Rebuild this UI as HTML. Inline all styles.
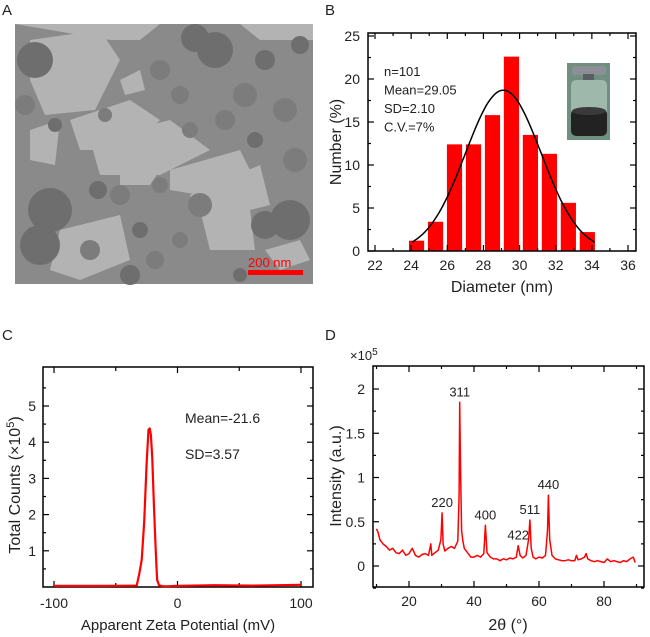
<!DOCTYPE html>
<html><head><meta charset="utf-8">
<style>
html,body{margin:0;padding:0;background:#fff;}
svg{display:block;font-family:"Liberation Sans","DejaVu Sans",sans-serif;}
</style></head>
<body>
<svg id="fig" width="650" height="637" viewBox="0 0 650 637">
  <!-- Panel A -->
  <text x="2" y="15" font-size="15" fill="#222">A</text>
  <g>
    <rect x="15" y="24" width="298" height="260" fill="#8a8a8a"/>
    <g fill="#b3b3b3">
      <path d="M30,40 L100,30 L120,60 L95,110 L45,115 L30,80Z"/>
      <path d="M15,24 L160,24 L140,40 L110,40Z"/>
      <path d="M240,24 L313,24 L313,40 L260,40Z"/>
      <path d="M70,120 L130,100 L160,120 L130,150 L80,150Z"/>
      <path d="M90,140 L170,120 L210,150 L160,175 L100,175Z"/>
      <path d="M120,160 L160,170 L150,185 L120,185Z"/>
      <path d="M170,170 L240,150 L250,170 L200,195 L170,190Z"/>
      <path d="M190,195 L260,165 L270,205 L230,215 L195,210Z"/>
      <path d="M60,230 L120,215 L130,260 L80,280 L50,270Z"/>
      <path d="M200,210 L250,210 L255,250 L210,250Z"/>
      <path d="M30,130 L60,120 L55,165 L30,160Z"/>
      <path d="M265,250 L300,240 L310,260 L280,270Z"/>
      <path d="M120,80 L140,70 L145,90 L125,95Z"/>
    </g>
    <g fill="#6e6e6e">
      <circle cx="35" cy="60" r="18"/><circle cx="50" cy="210" r="22"/><circle cx="40" cy="245" r="20"/>
      <circle cx="215" cy="50" r="18"/><circle cx="195" cy="38" r="14"/><circle cx="290" cy="220" r="20"/>
      <circle cx="265" cy="225" r="14"/><circle cx="140" cy="230" r="8"/><circle cx="98" cy="190" r="9"/>
      <circle cx="255" cy="140" r="8"/><circle cx="265" cy="60" r="10"/><circle cx="55" cy="125" r="7"/>
      <circle cx="300" cy="45" r="9"/><circle cx="240" cy="275" r="7"/><circle cx="130" cy="275" r="10"/>
    </g>
    <g fill="#7c7c7c">
      <circle cx="160" cy="70" r="10"/><circle cx="180" cy="95" r="9"/><circle cx="225" cy="120" r="10"/>
      <circle cx="245" cy="95" r="12"/><circle cx="285" cy="110" r="12"/><circle cx="190" cy="130" r="8"/>
      <circle cx="120" cy="195" r="10"/><circle cx="160" cy="185" r="8"/><circle cx="200" cy="205" r="12"/>
      <circle cx="90" cy="250" r="10"/><circle cx="180" cy="240" r="8"/><circle cx="155" cy="260" r="9"/>
      <circle cx="25" cy="105" r="10"/><circle cx="295" cy="160" r="12"/><circle cx="105" cy="115" r="7"/>
    </g>
  </g>
  <text x="248" y="267" font-size="13" fill="#f00">200 nm</text>
  <rect x="248" y="270" width="55" height="5" fill="#f00"/>

  <!-- Panel B -->
  <text x="325" y="15" font-size="15" fill="#222">B</text>
  <g id="pb"></g>
  <!-- Panel C -->
  <text x="2" y="340" font-size="15" fill="#222">C</text>
  <g id="pc"></g>
  <!-- Panel D -->
  <text x="325" y="340" font-size="15" fill="#222">D</text>
  <g id="pd"></g>
</svg>
<script>
// ---- Panel B data ----
const bCenters = [24.3, 25.35, 26.4, 27.45, 28.5, 29.55, 30.6, 31.65, 32.7, 33.75];
const bValues = [1.2, 3.4, 12.4, 12.4, 15.8, 22.6, 13.5, 11.3, 5.6, 2.2];
const bXTicks = [22, 24, 26, 28, 30, 32, 34, 36];
const bYTicks = [0, 5, 10, 15, 20, 25];
const bFitMean = [29.1];
const bFitPeak = [18.7];
const bFitSD = [2.1];
// ---- Panel C data ----
const cX = [-100, -60, -33, -31, -29, -27, -25, -23.5, -22.5, -21.5, -20.5, -19, -17.5, -16.5, -15, -12, -8, 0, 30, 60, 100];
const cY = [0.03, 0.03, 0.04, 0.35, 0.75, 1.8, 3.4, 4.35, 4.38, 4.2, 3.6, 2.2, 0.9, 0.2, 0.05, 0.02, 0.02, 0.03, 0.05, 0.04, 0.06];
const cXTicks = [-100, 0, 100];
const cYTicks = [1, 2, 3, 4, 5];
// ---- Panel D data ----
const dX = [10,10.5,11,12,13,14,15,16,17,18,19,20,21,22,23,24,25,26,26.7,27,27.3,28,29,29.8,30.2,30.5,31,32,33,34,35,35.4,35.6,35.8,36.2,36.6,37,38,39,40,41,42,43,43.5,44,45,46,47,48,49,50,51,52,53,53.6,54.2,55,56,56.8,57.2,57.6,58.2,59,60,61,62,62.6,62.9,63.3,64,65,66,67,68,69,70,71,71.5,72,73,74,74.5,75,76,77,78,79,80,81,82,83,84,85,86,87,88,89,89.6];
const dY = [0.42,0.38,0.3,0.25,0.22,0.18,0.2,0.15,0.14,0.18,0.12,0.14,0.2,0.12,0.1,0.13,0.14,0.12,0.25,0.12,0.13,0.15,0.18,0.3,0.6,0.25,0.17,0.2,0.22,0.2,0.28,0.8,1.85,1.2,0.4,0.28,0.2,0.15,0.1,0.1,0.12,0.1,0.14,0.46,0.15,0.1,0.08,0.08,0.06,0.08,0.07,0.09,0.08,0.1,0.23,0.12,0.09,0.12,0.3,0.52,0.2,0.1,0.08,0.1,0.09,0.12,0.4,0.8,0.3,0.12,0.08,0.07,0.06,0.06,0.07,0.06,0.06,0.12,0.07,0.08,0.1,0.14,0.08,0.06,0.05,0.06,0.05,0.04,0.08,0.05,0.06,0.05,0.04,0.06,0.05,0.08,0.1,0.04,0.08,0.28];
const dXTicks = [20, 40, 60, 80];
const dYTicks = [0, 0.5, 1, 1.5, 2];
const dYLabels = ["0", "0.5", "1", "1.5", "2"];
const dPeakLabels = ["220", "311", "400", "422", "511", "440"];
const dPeakX = [30.2, 35.6, 43.5, 53.6, 57.2, 62.9];
const dPeakY = [0.6, 1.85, 0.46, 0.23, 0.52, 0.8];

const NS = "http://www.w3.org/2000/svg";
function mk(parent, tag, attrs, text) {
  const e = document.createElementNS(NS, tag);
  for (const k in attrs) e.setAttribute(k, attrs[k]);
  if (text !== undefined) e.textContent = text;
  parent.appendChild(e);
  return e;
}
function lin(d0, d1, r0, r1) { return v => r0 + (v - d0) * (r1 - r0) / (d1 - d0); }

function frame(g, L, T, R, B) {
  const f = mk(g, 'rect', {x: L, y: T, width: R - L, height: B - T, fill: 'none', stroke: '#000', 'stroke-width': 1.5});
  
  
}
function xTick(g, x, T, B, len) {
  mk(g, 'line', {x1: x, x2: x, y1: B, y2: B - len, stroke: '#000', 'stroke-width': 1.2});
  mk(g, 'line', {x1: x, x2: x, y1: T, y2: T + len, stroke: '#000', 'stroke-width': 1.2});
}
function yTick(g, y, L, R, len) {
  mk(g, 'line', {x1: L, x2: L + len, y1: y, y2: y, stroke: '#000', 'stroke-width': 1.2});
  mk(g, 'line', {x1: R, x2: R - len, y1: y, y2: y, stroke: '#000', 'stroke-width': 1.2});
}

// ===== Panel B =====
(function(){
  const g = document.getElementById('pb');
  const L = 368, R = 636, T = 33, B = 251;
  const x = lin(22, 36, 375, 628), y = lin(0, 25, 251, 36);
  bCenters.forEach((c, i) => {
    const r = mk(g, 'rect', {x: x(c - 0.42), y: y(bValues[i]), width: x(c + 0.42) - x(c - 0.42), height: y(0) - y(bValues[i]), fill: '#ff0000'});
    
    
  });
  let d = '';
  for (let v = 24.05; v <= 34.25; v += 0.1) {
    const yy = bFitPeak[0] * Math.exp(-Math.pow(v - bFitMean[0], 2) / (2 * bFitSD[0] * bFitSD[0]));
    d += (d ? 'L' : 'M') + x(v).toFixed(1) + ',' + y(yy).toFixed(1);
  }
  const fit = mk(g, 'path', {d: d, fill: 'none', stroke: '#000', 'stroke-width': 1.5});
  
  
  frame(g, L, T, R, B);
  bXTicks.forEach(t => {
    xTick(g, x(t), T, B, 6);
    if (t < 36) xTick(g, x(t + 1), T, B, 3);
    const lb = mk(g, 'text', {x: x(t), y: 270, 'font-size': 14, 'text-anchor': 'middle', fill: '#222'}, t);
    
    
  });
  bYTicks.forEach(t => {
    yTick(g, y(t), L, R, 6);
    if (t < 25) yTick(g, y(t + 2.5), L, R, 3);
    const lb = mk(g, 'text', {x: 360, y: y(t) + 5, 'font-size': 14, 'text-anchor': 'end', fill: '#222'}, t);
    
    
  });
  const xt = mk(g, 'text', {x: 502, y: 292, 'font-size': 16, 'text-anchor': 'middle', fill: '#222'}, 'Diameter (nm)');
  
  
  const yt = mk(g, 'text', {x: 0, y: 0, 'font-size': 16, 'text-anchor': 'middle', fill: '#222', transform: 'translate(341,142) rotate(-90)'}, 'Number (%)');
  
  
  ['n=101', 'Mean=29.05', 'SD=2.10', 'C.V.=7%'].forEach((s, i) => {
    const t = mk(g, 'text', {x: 384, y: 76 + i * 18.5, 'font-size': 13, fill: '#222'}, s);
    
    
  });
  // inset vial photo
  const ph = mk(g, 'g', {});
  
  
  mk(ph, 'rect', {x: 567, y: 63, width: 43, height: 77, fill: '#6f8f80'});
  mk(ph, 'rect', {x: 572, y: 66, width: 34, height: 9, rx: 3, fill: '#8c8f95'});
  mk(ph, 'rect', {x: 583, y: 74, width: 11, height: 7, fill: '#5a5d62'});
  mk(ph, 'rect', {x: 571, y: 80, width: 36, height: 56, rx: 5, fill: '#9fb8ac'});
  mk(ph, 'rect', {x: 571, y: 109, width: 36, height: 27, rx: 5, fill: '#222'});
  mk(ph, 'ellipse', {cx: 589, cy: 111, rx: 17, ry: 4, fill: '#3a3a3a'});
})();

// ===== Panel C =====
(function(){
  const g = document.getElementById('pc');
  const L = 43, R = 313, T = 367, B = 587;
  const x = lin(-100, 100, 54, 301), y = lin(0, 5, 587, 406);
  frame(g, L, T, R, B);
  [-100, -50, 0, 50, 100].forEach(t => xTick(g, x(t), T, B, t % 100 === 0 ? 6 : 4));
  cXTicks.forEach(t => {
    const lb = mk(g, 'text', {x: x(t), y: 608, 'font-size': 14, 'text-anchor': 'middle', fill: '#222'}, t);
    
    
  });
  [0.5,1,1.5,2,2.5,3,3.5,4,4.5,5,5.5].forEach(t => yTick(g, y(t), L, R, Number.isInteger(t) ? 6 : 3));
  cYTicks.forEach(t => {
    const lb = mk(g, 'text', {x: 36, y: y(t) + 5, 'font-size': 14, 'text-anchor': 'end', fill: '#222'}, t);
    
    
  });
  const d = cX.map((v, i) => (i ? 'L' : 'M') + x(v).toFixed(1) + ',' + y(cY[i]).toFixed(1)).join('');
  const ln = mk(g, 'path', {d: d, fill: 'none', stroke: '#ff0000', 'stroke-width': 2.2, 'stroke-linejoin': 'round'});
  
  
  const t1 = mk(g, 'text', {x: 185, y: 423, 'font-size': 14, fill: '#222'}, 'Mean=-21.6');
  
  
  const t2 = mk(g, 'text', {x: 185, y: 459, 'font-size': 14, fill: '#222'}, 'SD=3.57');
  
  
  const xt = mk(g, 'text', {x: 178, y: 630, 'font-size': 15, 'text-anchor': 'middle', fill: '#222'}, 'Apparent Zeta Potential (mV)');
  
  
  const yt = mk(g, 'text', {x: 0, y: 0, 'font-size': 16, 'text-anchor': 'middle', fill: '#222', transform: 'translate(20,485) rotate(-90)'});
  
  
  mk(yt, 'tspan', {}, 'Total Counts (×10');
  mk(yt, 'tspan', {dy: -6, 'font-size': 11}, '5');
  mk(yt, 'tspan', {dy: 6}, ')');
})();

// ===== Panel D =====
(function(){
  const g = document.getElementById('pd');
  const L = 373, R = 644, T = 366, B = 587;
  const x = lin(20, 80, 409, 604), y = lin(0, 2, 566, 389);
  frame(g, L, T, R, B);
  [10,20,30,40,50,60,70,80,90].forEach(t => xTick(g, x(t), T, B, t % 20 === 0 ? 6 : 3));
  dXTicks.forEach(t => {
    const lb = mk(g, 'text', {x: x(t), y: 606, 'font-size': 14, 'text-anchor': 'middle', fill: '#222'}, t);
    
    
  });
  [-0.25,0,0.25,0.5,0.75,1,1.25,1.5,1.75,2].forEach(t => yTick(g, y(t), L, R, (t * 2) % 1 === 0 ? 6 : 3));
  dYTicks.forEach((t, i) => {
    const lb = mk(g, 'text', {x: 365, y: y(t) + 5, 'font-size': 14, 'text-anchor': 'end', fill: '#222'}, dYLabels[i]);
    
    
  });
  const d = dX.map((v, i) => (i ? 'L' : 'M') + x(v).toFixed(1) + ',' + y(dY[i]).toFixed(1)).join('');
  const ln = mk(g, 'path', {d: d, fill: 'none', stroke: '#ff0000', 'stroke-width': 1.5, 'stroke-linejoin': 'round'});
  
  
  dPeakLabels.forEach((s, i) => {
    const t = mk(g, 'text', {x: x(dPeakX[i]), y: y(dPeakY[i]) - 6, 'font-size': 13, 'text-anchor': 'middle', fill: '#222'}, s);
    
    
  });
  const sc = mk(g, 'text', {x: 350, y: 360, 'font-size': 13, fill: '#222'});
  
  
  mk(sc, 'tspan', {}, '×10');
  mk(sc, 'tspan', {dy: -5, 'font-size': 10}, '5');
  const xt = mk(g, 'text', {x: 508, y: 630, 'font-size': 16, 'text-anchor': 'middle', fill: '#222'}, '2θ (°)');
  
  
  const yt = mk(g, 'text', {x: 0, y: 0, 'font-size': 16, 'text-anchor': 'middle', fill: '#222', transform: 'translate(341,476) rotate(-90)'}, 'Intensity (a.u.)');
  
  
})();
</script>
</body></html>
